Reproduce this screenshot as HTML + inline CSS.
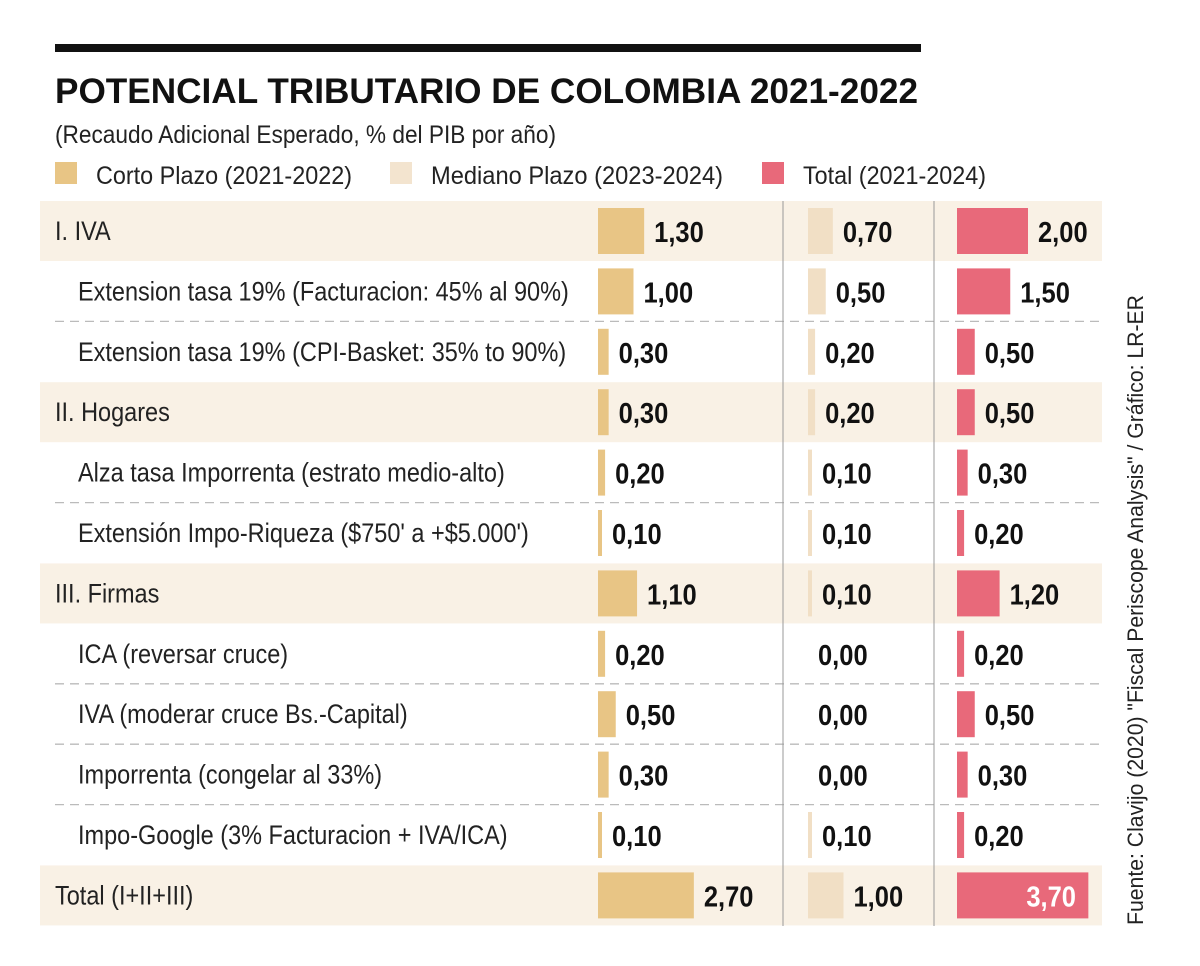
<!DOCTYPE html>
<html><head><meta charset="utf-8"><style>
html,body{margin:0;padding:0;background:#fff}
svg{display:block}
text{font-family:"Liberation Sans",sans-serif}
</style></head><body>
<svg id="chart" width="1200" height="966" viewBox="0 0 1200 966" xmlns="http://www.w3.org/2000/svg">
<rect x="55" y="44" width="866" height="8" fill="#111"/>
<text x="55" y="103" font-size="35" font-weight="bold" fill="#111" textLength="863" lengthAdjust="spacingAndGlyphs">POTENCIAL TRIBUTARIO DE COLOMBIA 2021-2022</text>
<text x="55" y="143" font-size="25" fill="#222" textLength="501" lengthAdjust="spacingAndGlyphs">(Recaudo Adicional Esperado, % del PIB por año)</text>
<g>
<rect x="55" y="162" width="22" height="22" fill="#e8c585"/>
<text x="96" y="184" font-size="25" fill="#222" textLength="256" lengthAdjust="spacingAndGlyphs">Corto Plazo  (2021-2022)</text>
<rect x="390" y="162" width="22" height="22" fill="#f3e4cf"/>
<text x="431" y="184" font-size="25" fill="#222" textLength="292" lengthAdjust="spacingAndGlyphs">Mediano Plazo  (2023-2024)</text>
<rect x="762" y="162" width="22" height="22" fill="#e8697a"/>
<text x="803" y="184" font-size="25" fill="#222" textLength="183" lengthAdjust="spacingAndGlyphs">Total (2021-2024)</text>
</g>
<g id="rows"></g>
<line x1="783" y1="201" x2="783" y2="926" stroke="#999" stroke-width="1"/>
<line x1="934" y1="201" x2="934" y2="926" stroke="#999" stroke-width="1"/>
<text transform="translate(1143,925) rotate(-90)" font-size="22" fill="#222" textLength="630" lengthAdjust="spacingAndGlyphs">Fuente:  Clavijo (2020) "Fiscal Periscope Analysis" / Gráfico: LR-ER</text>
</svg>
<script>
const categories = ["I.  IVA","Extension  tasa 19% (Facturacion: 45% al 90%)","Extension  tasa 19% (CPI-Basket:  35% to 90%)","II.  Hogares","Alza tasa Imporrenta (estrato medio-alto)","Extensión Impo-Riqueza ($750' a +$5.000')","III.  Firmas","ICA (reversar cruce)","IVA (moderar cruce Bs.-Capital)","Imporrenta  (congelar al 33%)","Impo-Google (3% Facturacion + IVA/ICA)","Total (I+II+III)"];
const isHeader = [true,false,false,true,false,false,true,false,false,false,false,true];
const corto = [1.30,1.00,0.30,0.30,0.20,0.10,1.10,0.20,0.50,0.30,0.10,2.70];
const mediano = [0.70,0.50,0.20,0.20,0.10,0.10,0.10,0.00,0.00,0.00,0.10,1.00];
const total = [2.00,1.50,0.50,0.50,0.30,0.20,1.20,0.20,0.50,0.30,0.20,3.70];
const NS="http://www.w3.org/2000/svg";
const g=document.getElementById('rows');
const rowTop=i=>201+i*60.4;
const xScale=v=>v*35.5;
function el(t,a){const e=document.createElementNS(NS,t);for(const k in a)e.setAttribute(k,a[k]);return e;}
const fmt=v=>v.toFixed(2).replace('.',',');
const cols=[{d:corto,x:598,c:"#e8c585",n:"corto"},{d:mediano,x:808,c:"#f1dfc5",n:"mediano"},{d:total,x:957,c:"#e8697a",n:"total"}];
categories.forEach((cat,i)=>{
  const y=rowTop(i);
  if(isHeader[i]){
    const bg=el('rect',{x:40,y:y,width:1062,height:60,fill:"#f9f1e5"});
    
    
    g.appendChild(bg);
  } else if(!isHeader[i+1]&&i+1<categories.length){
    const ln=el('line',{x1:55,y1:y+60,x2:1100,y2:y+60,stroke:"#bbb","stroke-width":1.3,"stroke-dasharray":"9,6"});
    
    
    g.appendChild(ln);
  }
  const lx=isHeader[i]?55:78;
  const lab=el('text',{transform:`translate(${lx},${y+39}) scale(0.87,1)`,"font-size":27,fill:"#222"});
  lab.textContent=cat;
  
  
  g.appendChild(lab);
  cols.forEach(col=>{
    const v=col.d[i];
    const w=Math.max(xScale(v),v>0?4:0);
    const b=el('rect',{x:col.x,y:y+7,width:w,height:46,fill:col.c});
    
    
    g.appendChild(b);
    let tx=col.x+w+10, fill="#111";
    if(col.n==="total"&&col.x+w+10+50>1100){tx=col.x+w-10-52;fill="#fff";}
    const t=el('text',{transform:`translate(${tx},${y+41}) scale(0.88,1)`,"font-size":29,"font-weight":"bold",fill:fill});
    t.textContent=fmt(v);
    
    
    g.appendChild(t);
  });
});
</script>
</body></html>
